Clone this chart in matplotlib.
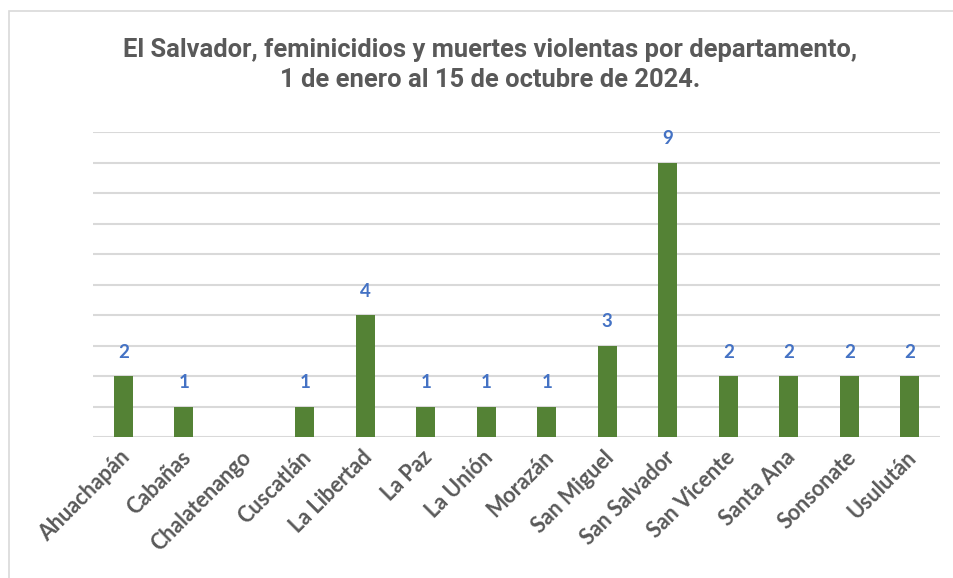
import matplotlib

matplotlib.use("Agg")

import matplotlib.pyplot as plt
import matplotlib.transforms as mtransforms
from matplotlib.patches import Rectangle

# data
departamentos = [
    "Ahuachapán", "Cabañas", "Chalatenango", "Cuscatlán", "La Libertad",
    "La Paz", "La Unión", "Morazán", "San Miguel", "San Salvador",
    "San Vicente", "Santa Ana", "Sonsonate", "Usulután",
]
casos = [2, 1, 0, 1, 4, 1, 1, 1, 3, 9, 2, 2, 2, 2]

titulo = ("El Salvador, feminicidios y muertes violentas por departamento,\n"
          "1 de enero al 15 de octubre de 2024.")

fig = plt.figure(figsize=(9.54, 5.78), dpi=100)

# chart border (cropped at right and bottom like the screenshot)
fig.patches.append(Rectangle((9 / 954, -0.05), 1.1, 1 - 11 / 578 + 0.05,
                             transform=fig.transFigure, fill=False,
                             edgecolor="#D9D9D9", linewidth=1.2))

ax = fig.add_axes([93 / 954, 1 - 437 / 578, (940 - 93) / 954, (437 - 132) / 578])

x = range(len(departamentos))
ax.bar(x, casos, width=0.31, color="#548235", zorder=3)

ax.set_ylim(0, 10)
ax.set_xlim(-0.5, len(departamentos) - 0.5)
ax.set_yticks(range(0, 11))
ax.yaxis.grid(True, color="#D9D9D9", linewidth=1.5, zorder=0)
ax.tick_params(axis="y", left=False, labelleft=False)
ax.tick_params(axis="x", length=0, pad=7)
for s in ax.spines.values():
    s.set_visible(False)

ax.set_xticks(list(x))
ax.set_xticklabels(departamentos, rotation=45, ha="right", va="top",
                   rotation_mode="anchor", fontsize=15.5, fontweight="bold",
                   color="#595959", family="Lato")

# nudge category labels a little to the left
shift = mtransforms.ScaledTranslation(-4 / 100, 0, fig.dpi_scale_trans)
for lbl in ax.get_xticklabels():
    lbl.set_transform(lbl.get_transform() + shift)

# value labels (skip zeros)
for i, v in enumerate(casos):
    if v > 0:
        ax.annotate(str(v), (i, v), xytext=(0, 11), textcoords="offset points",
                    ha="center", va="bottom", fontsize=13.5, fontweight="bold",
                    color="#4472C4", family="Lato")

fig.text(490 / 954, 1 - 65 / 578, titulo, ha="center", va="center",
         fontsize=18.4, fontweight="bold", color="#595959",
         family=["Roboto", "DejaVu Sans"], linespacing=1.3)

fig.savefig("out.png", dpi=100)
plt.close(fig)
